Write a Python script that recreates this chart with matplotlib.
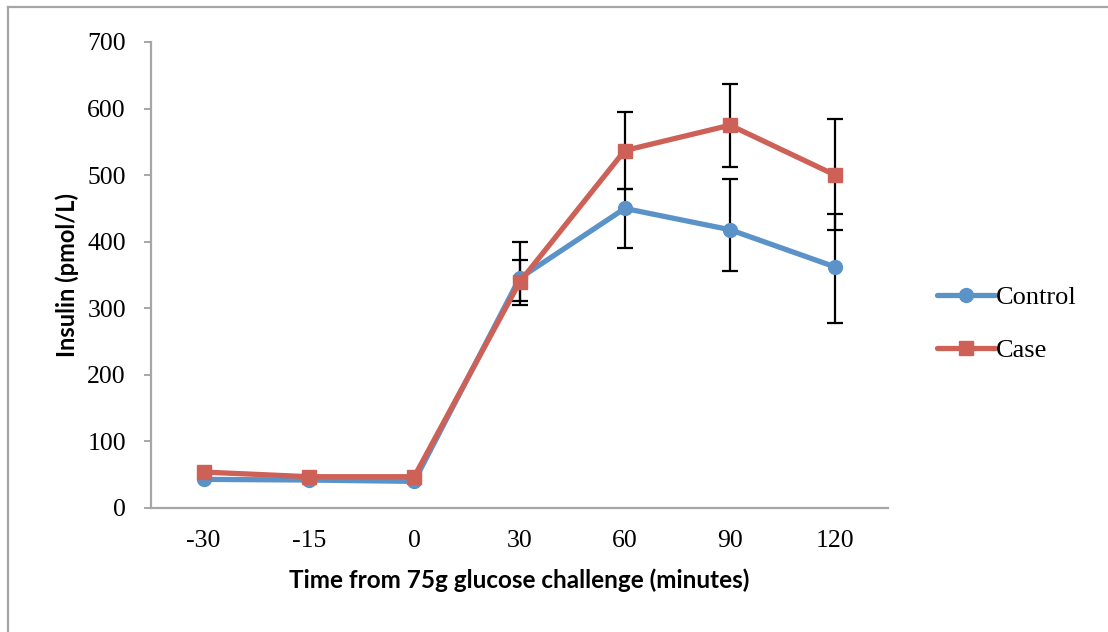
import matplotlib

matplotlib.use("Agg")
import matplotlib.pyplot as plt
from matplotlib.lines import Line2D
import numpy as np

# OGTT insulin response, mean +/- error per time point
times = ["-30", "-15", "0", "30", "60", "90", "120"]
control = [43, 42, 40, 345, 450, 418, 362]
case = [54, 47, 47, 339, 537, 575, 500]

# error bars only at the post-load points (index 3 onward)
err_idx = [3, 4, 5, 6]
control_lo = [34, 59, 62, 84]
control_hi = [27, 29, 76, 79]
case_lo = [34, 58, 63, 83]
case_hi = [61, 58, 62, 85]

BLUE = "#5b93c9"
RED = "#cd6158"
AXIS_GREY = "#a6a6a6"

fig = plt.figure(figsize=(11.08, 6.32), dpi=100)
ax = fig.add_axes([151 / 1108, 1 - 508 / 632, (888 - 151) / 1108, (508 - 42) / 632])

x = np.arange(len(times))

for vals, lo, hi in ((control, control_lo, control_hi), (case, case_lo, case_hi)):
    ev = np.array(vals, dtype=float)[err_idx]
    ax.errorbar(x[err_idx], ev, yerr=[lo, hi], fmt="none", ecolor="black",
                elinewidth=1.6, capsize=5.5, capthick=1.6, zorder=2)

ax.plot(x, control, color=BLUE, lw=3.8, marker="o", ms=10, label="Control",
        solid_capstyle="round", zorder=3)
ax.plot(x, case, color=RED, lw=3.8, marker="s", ms=10, label="Case",
        solid_capstyle="round", zorder=4)

ax.set_xlim(-0.5, len(times) - 0.5)
ax.set_ylim(0, 700)
ax.set_xticks(x)
ax.set_xticklabels(times)
ax.set_yticks(range(0, 701, 100))

for side in ("top", "right"):
    ax.spines[side].set_visible(False)
for side in ("left", "bottom"):
    ax.spines[side].set_color(AXIS_GREY)
    ax.spines[side].set_linewidth(1.6)

ax.tick_params(axis="y", direction="out", length=5, width=1.4, color=AXIS_GREY, pad=13)
ax.tick_params(axis="x", length=0, pad=16)
for lab in ax.get_xticklabels() + ax.get_yticklabels():
    lab.set_family("Liberation Serif")
    lab.set_fontsize(18.5)

ax.set_ylabel("Insulin (pmol/L)", family="Lato", fontweight="bold", fontsize=17, labelpad=6)
ax.set_xlabel("Time from 75g glucose challenge (minutes)", family="Lato",
              fontweight="bold", fontsize=17.5, labelpad=12)

fig.legend(loc="center left", bbox_to_anchor=(926 / 1108, 1 - 324 / 632), frameon=False,
           prop={"family": "Liberation Serif", "size": 19}, handlelength=2.2,
           handletextpad=0.05, labelspacing=1.1, borderaxespad=0)

# chart area border (left and top edges)
fig.add_artist(Line2D([8 / 1108, 8 / 1108], [0, 1 - 7 / 632], color=AXIS_GREY, lw=1.6))
fig.add_artist(Line2D([8 / 1108, 1], [1 - 7 / 632, 1 - 7 / 632], color=AXIS_GREY, lw=1.6))

fig.savefig("out.png", dpi=100)
